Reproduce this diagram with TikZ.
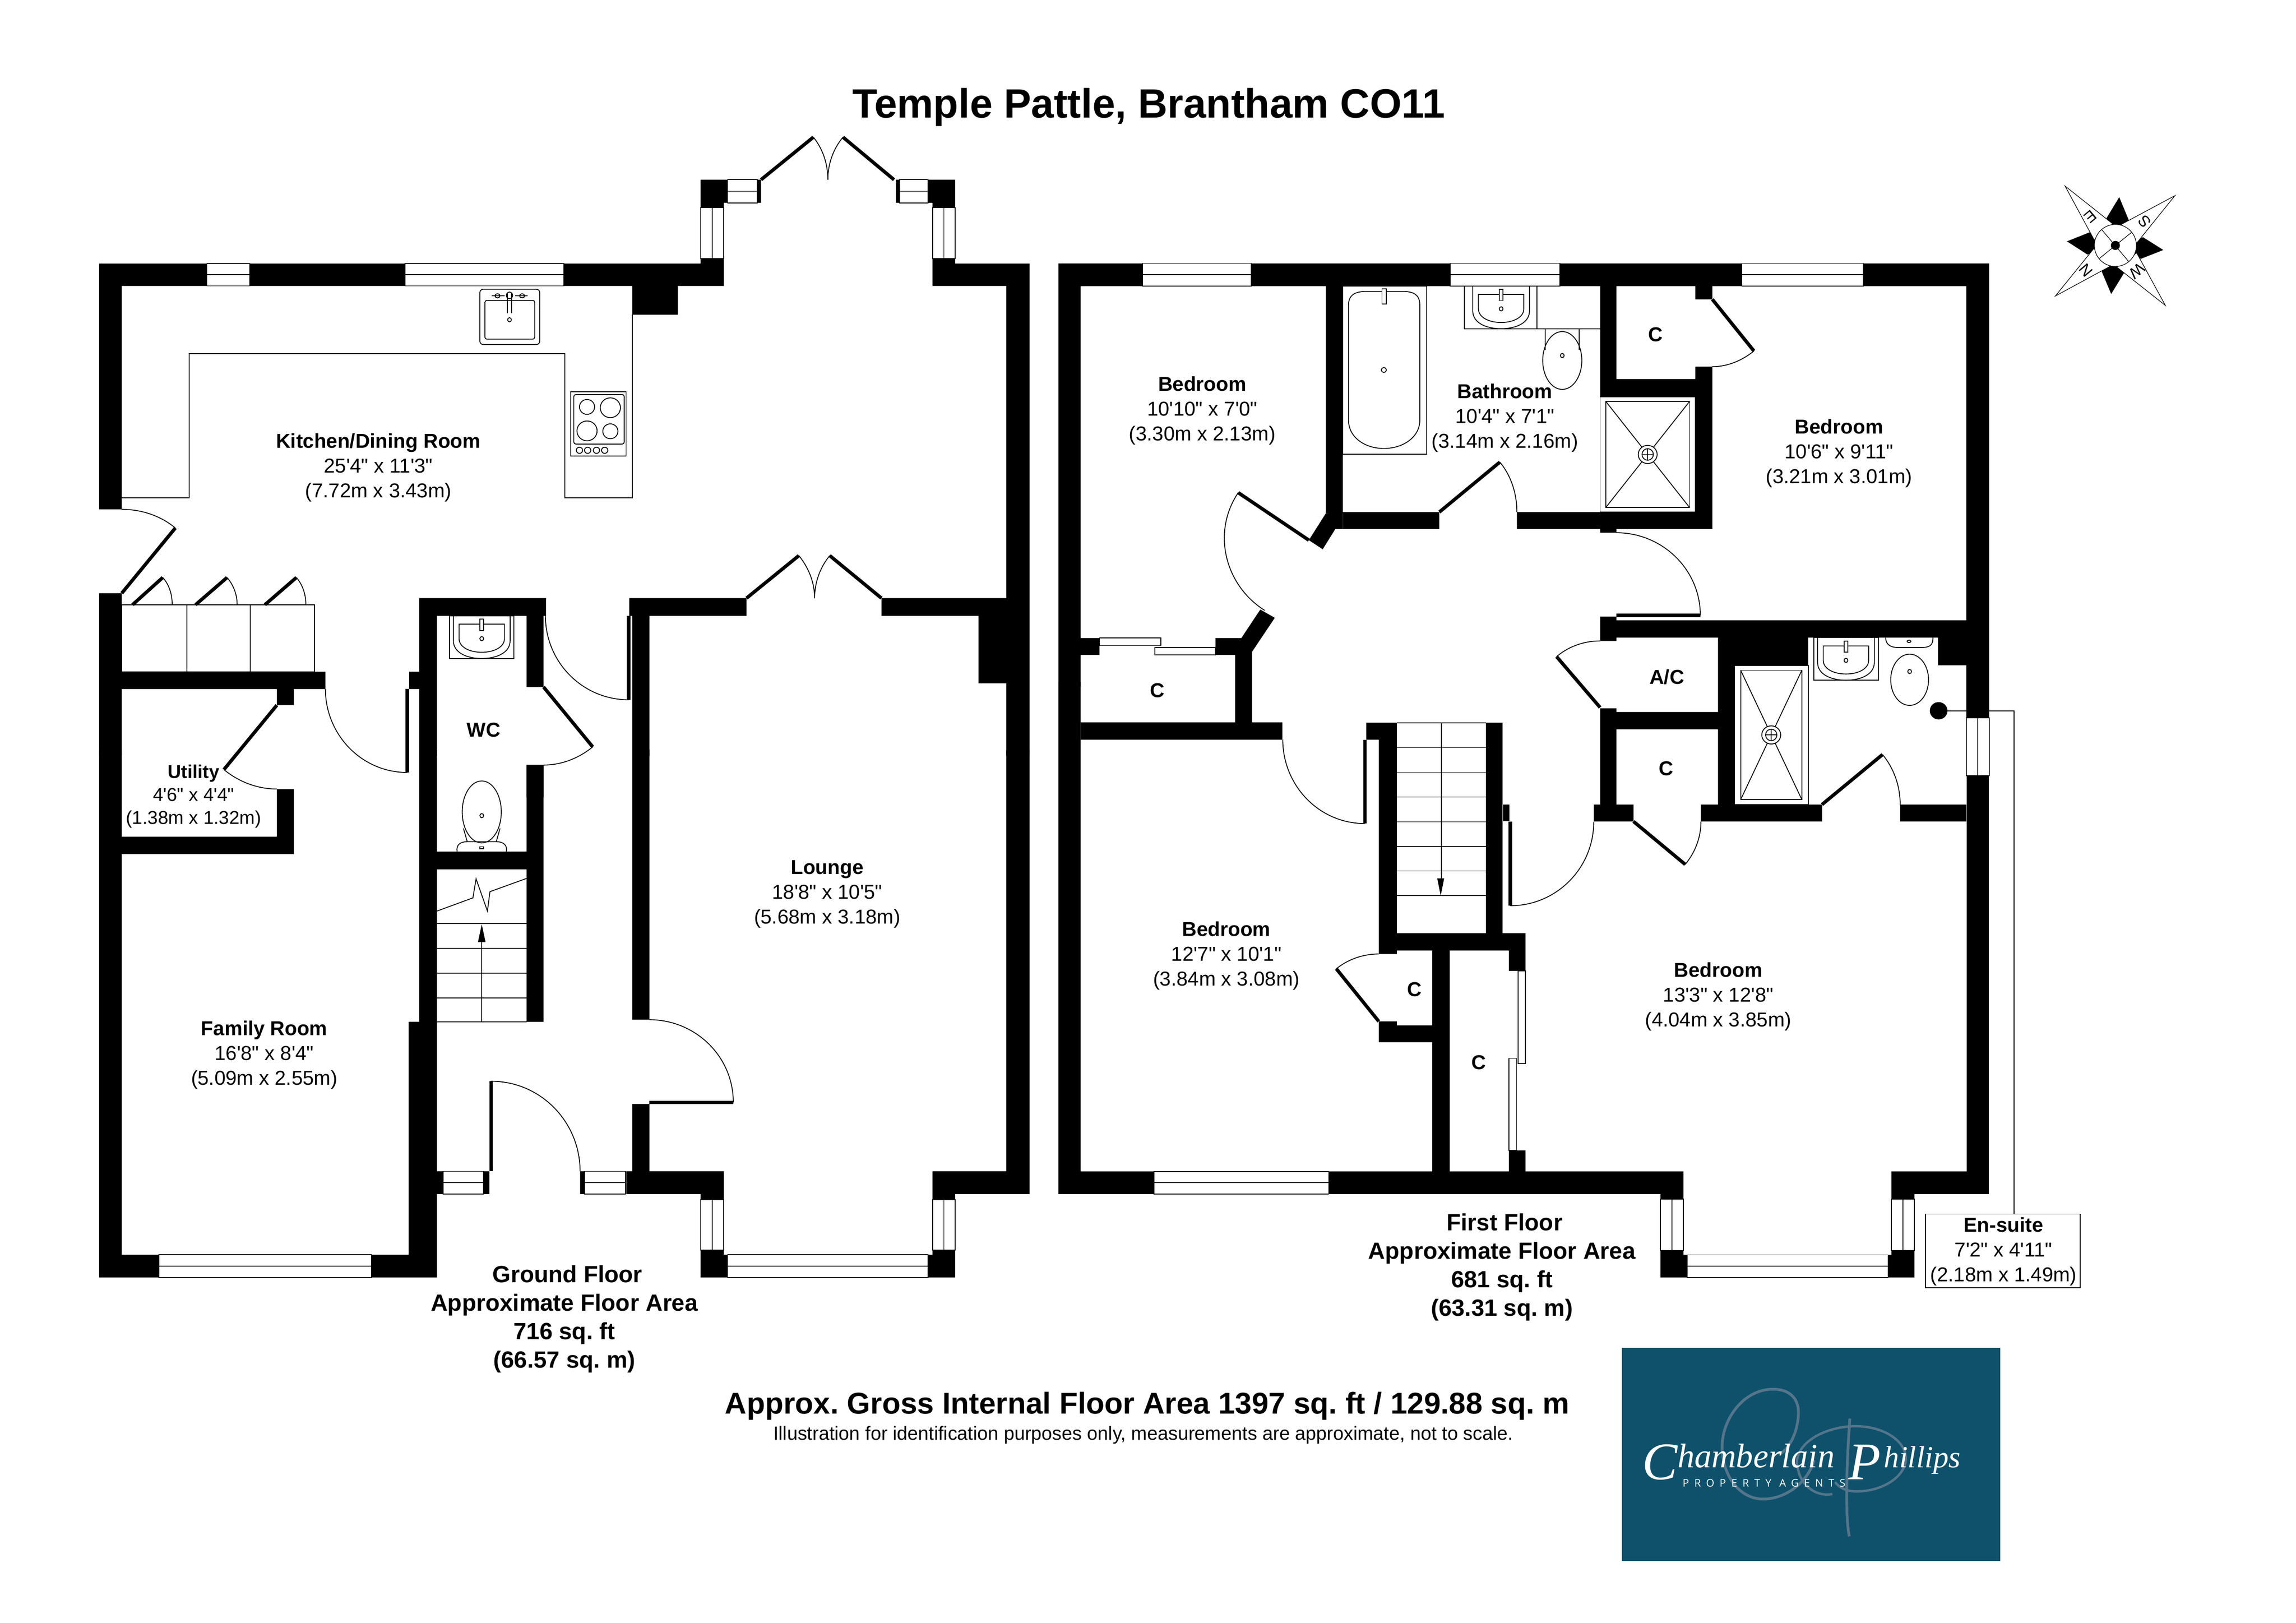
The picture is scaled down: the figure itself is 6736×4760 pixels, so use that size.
\documentclass[tikz,border=0pt]{standalone}
\usepackage{fontspec}
\setmainfont{Liberation Sans}
\newfontfamily\planfont{Liberation Sans}
\newfontfamily\scriptfam{Liberation Serif}
\newfontfamily\logosans[LetterSpace=50]{Open Sans}
\definecolor{logoblue}{HTML}{0F516B}
\definecolor{logomark}{HTML}{54758B}
\frenchspacing
\tikzset{
 z1/.style={shift={(250,400)},xscale=1.8495,yscale=1.2117},
 z2/.style={shift={(250,2200)},xscale=1.8495,yscale=1.2117},
 z3/.style={shift={(3100,700)},xscale=1.8495,yscale=1.2117},
 z4/.style={shift={(3100,2000)},xscale=2.041,yscale=1.2755},
 z5/.style={shift={(4700,3900)},xscale=0.829,yscale=0.4974},
 z6/.style={shift={(6000,480)},xscale=0.3333,yscale=0.3333},
 thinl/.style={line width=0.25pt,draw=black},
 leaf/.style={line width=1pt,draw=black},
 room/.style={font=\planfont\fontsize{5.9}{7.27}\selectfont,align=center,inner sep=0pt,yshift=-0.5pt},
 smallroom/.style={font=\planfont\fontsize{5.45}{6.7}\selectfont,align=center,inner sep=0pt,yshift=-0.3pt},
 floorlab/.style={font=\planfont\fontsize{6.88}{8.36}\selectfont\bfseries,align=center,inner sep=0pt,yshift=-0.8pt},
 heading/.style={font=\planfont\fontsize{12}{14}\selectfont\bfseries,inner sep=0pt},
 grossarea/.style={font=\planfont\fontsize{8.83}{10}\selectfont\bfseries,inner sep=0pt},
 disclaimer/.style={font=\planfont\fontsize{5.58}{6.5}\selectfont,inner sep=0pt},
 compassletter/.style={inner sep=0pt,font=\planfont\fontsize{4.6}{5}\selectfont},
}
\newcommand{\door}[6]{%
 \pgfmathsetmacro\Ax{(#3-#1)*\zx}\pgfmathsetmacro\Ay{(#4-#2)*\zy}%
 \pgfmathsetmacro\Bx{(#5-#1)*\zx}\pgfmathsetmacro\By{(#6-#2)*\zy}%
 \pgfmathsetmacro\dang{atan2(\By,\Bx)-atan2(\Ay,\Ax)}%
 \pgfmathsetmacro\dang{\dang>180 ? \dang-360 : (\dang<-180 ? \dang+360 : \dang)}%
 \pgfmathsetmacro\kk{4/3*tan(\dang/4)}%
 \pgfmathsetmacro\cax{#3-(\kk)*(\Ay)/\zx}\pgfmathsetmacro\cay{#4+(\kk)*(\Ax)/\zy}%
 \pgfmathsetmacro\cbx{#5+(\kk)*(\By)/\zx}\pgfmathsetmacro\cby{#6-(\kk)*(\Bx)/\zy}%
 \draw[thinl] (#3,#4) .. controls (\cax,\cay) and (\cbx,\cby) .. (#5,#6);
 \draw[leaf] (#1,#2) -- (#3,#4);
}
\newcommand{\winH}[4]{%
 \draw[thinl,fill=white] (#1,#3) rectangle (#2,#4);
 \pgfmathsetmacro\wm{(#3+#4)/2}\draw[thinl] (#1,\wm) -- (#2,\wm);
}
\newcommand{\winV}[4]{%
 \draw[thinl,fill=white] (#1,#3) rectangle (#2,#4);
 \pgfmathsetmacro\wm{(#1+#2)/2}\draw[thinl] (\wm,#3) -- (\wm,#4);
}
\newcommand{\basin}[2]{%
 \begin{scope}[shift={(#1,#2)}]
 \draw[thinl] (-45,0) -- (-45,60) .. controls (-45,88) and (-25,103) .. (0,103) .. controls (25,103) and (45,88) .. (45,60) -- (45,0);
 \draw[thinl] (-36,20) -- (-36,55) .. controls (-36,75) and (-20,88) .. (0,88) .. controls (20,88) and (36,75) .. (36,55) -- (36,20) -- cycle;
 \draw[thinl,fill=white] (-3,8) rectangle (3,35);
 \draw[thinl] (0,55) ellipse [x radius=3,y radius=5];
 \end{scope}
}
\newcommand{\shower}[6]{%
 \draw[thinl] (#1,#2) rectangle (#3,#4);
 \pgfmathsetmacro\sa{#1+#5}\pgfmathsetmacro\sb{#3-#5}\pgfmathsetmacro\sc{#2+#6}\pgfmathsetmacro\sd{#4-#6}%
 \pgfmathsetmacro\mx{(#1+#3)/2}\pgfmathsetmacro\my{(#2+#4)/2}%
 \draw[thinl] (\sa,\sc) rectangle (\sb,\sd);
 \draw[thinl] (\sa,\sc) -- (\sb,\sd) (\sb,\sc) -- (\sa,\sd);
 \draw[thinl,fill=white] (\mx,\my) ellipse [x radius=15,y radius=22];
 \draw[thinl] (\mx,\my) ellipse [x radius=9,y radius=14];
 \draw[thinl] (\mx-9,\my) -- (\mx+9,\my) (\mx,\my-14) -- (\mx,\my+14);
}
\begin{document}
\begin{tikzpicture}[x=0.1pt,y=-0.1pt]
\useasboundingbox (0,0) rectangle (6736,4760);
\fill[white] (0,0) rectangle (6736,4760);
% ---------- GROUND FLOOR upper
\begin{scope}[z1]
\def\zx{1.8495}\def\zy{1.2117}
\fill (22,308) rectangle (193,362)
      (22,308) rectangle (58,903)
      (261,308) rectangle (507,362)
      (759,308) rectangle (1013,362)
      (976,296) rectangle (1013,362)
      (868,362) rectangle (940,432)
      (976,105) rectangle (1019,161)
      (976,161) rectangle (1013,172)
      (1066,105) rectangle (1072,161)
      (1286,105) rectangle (1292,161)
      (1337,105) rectangle (1380,161)
      (1344,161) rectangle (1380,172)
      (1344,296) rectangle (1380,362)
      (1344,308) rectangle (1498,362)
      (1461,308) rectangle (1498,1500)
      (863,1118) rectangle (1049,1161)
      (1263,1118) rectangle (1461,1161)
      (1417,1161) rectangle (1461,1324)
      (868,1118) rectangle (895,1500)
      (530,1118) rectangle (731,1161)
      (530,1118) rectangle (558,1500)
      (700,1161) rectangle (727,1333)
      (700,1522) rectangle (727,1600)
      (22,1106) rectangle (58,1500)
      (22,1296) rectangle (381,1338)
      (514,1296) rectangle (530,1338)
      (304,1338) rectangle (331,1377);
\winH{193}{261}{308}{362}
\winH{507}{759}{308}{362}
\winV{976}{1013}{172}{296}
\winV{1344}{1380}{172}{296}
\winH{1019}{1066}{105}{161}
\winH{1292}{1337}{105}{161}
\door{1072}{105}{1155}{2}{1178}{105}
\door{1283}{105}{1202}{2}{1178}{105}
\door{1049}{1118}{1132}{1015}{1157}{1118}
\door{1263}{1118}{1181}{1015}{1157}{1118}
\door{58}{1106}{143}{948}{58}{903}
\door{75}{1134}{123}{1068}{138}{1134}
\door{175}{1134}{225}{1068}{241}{1134}
\door{285}{1134}{335}{1068}{350}{1134}
\door{511}{1338}{511}{1540}{381}{1338}
\door{862}{1161}{862}{1364}{730}{1161}
\door{727}{1333}{805}{1478}{727}{1522}
\door{304}{1377}{220}{1533}{304}{1580}
\draw[thinl] (58,875) -- (165,875) -- (165,526) -- (761,526) -- (761,875) -- (868,875) -- (868,432);
\draw[thinl] (58,1134) rectangle (161,1296) (161,1134) rectangle (262,1296) (262,1134) rectangle (364,1296);
\draw[thinl,rounded corners=1pt] (626,370) rectangle (721,504);
\draw[thinl,rounded corners=0.6pt] (634,397) rectangle (713,491);
\draw[thinl] (670,380) -- (670,428) (676,380) -- (676,428);
\draw[thinl] (673,385) ellipse [x radius=5,y radius=8];
\draw[thinl] (654,386) ellipse [x radius=4,y radius=5] (693,386) ellipse [x radius=4,y radius=5];
\draw[thinl] (645,386) -- (665,386) (682,386) -- (702,386);
\draw[thinl] (673,444) ellipse [x radius=3,y radius=5];
\draw[thinl] (770,618) rectangle (858,774);
\draw[thinl,rounded corners=0.6pt] (775,625) rectangle (855,745);
\draw[thinl] (796,655) ellipse [x radius=12,y radius=18];
\draw[thinl] (833,657) ellipse [x radius=16,y radius=24];
\draw[thinl] (796,713) ellipse [x radius=16,y radius=24];
\draw[thinl] (833,714) ellipse [x radius=12,y radius=18];
\foreach \hx in {784,797,811,824} \draw[thinl] (\hx,760) ellipse [x radius=5,y radius=7.5];
\draw[thinl] (578,1161) rectangle (680,1264);
\basin{629}{1161}
\node[room] (kitchen) at (465,798) {\textbf{Kitchen/Dining Room}\\25'4" x 11'3"\\(7.72m x 3.43m)};
\node[room] (wc) at (632,1433) {\textbf{WC}};
\end{scope}
% ---------- GROUND FLOOR lower
\begin{scope}[z2]
\def\zx{1.8495}\def\zy{1.2117}
\fill (1461,0) rectangle (1498,1075)
      (1344,1020) rectangle (1498,1075)
      (1344,1075) rectangle (1380,1088)
      (868,0) rectangle (895,653)
      (868,857) rectangle (895,1020)
      (858,1020) rectangle (1013,1075)
      (976,1075) rectangle (1013,1088)
      (976,1211) rectangle (1013,1222)
      (976,1222) rectangle (1019,1277)
      (1344,1211) rectangle (1380,1222)
      (1337,1222) rectangle (1380,1277)
      (530,0) rectangle (558,658)
      (513,658) rectangle (558,1277)
      (22,0) rectangle (58,1277)
      (22,1222) rectangle (117,1277)
      (454,1222) rectangle (558,1277)
      (700,36) rectangle (727,658)
      (558,246) rectangle (700,289)
      (304,95) rectangle (331,252)
      (58,210) rectangle (331,252)
      (558,1020) rectangle (568,1075)
      (632,1020) rectangle (641,1075)
      (785,1020) rectangle (792,1075);
\winH{117}{454}{1222}{1277}
\winH{1019}{1337}{1222}{1277}
\winV{976}{1013}{1088}{1211}
\winV{1344}{1380}{1088}{1211}
\winH{568}{632}{1020}{1075}
\winH{792}{857}{1020}{1075}
\door{895}{853}{1028}{853}{895}{653}
\door{644}{1020}{644}{802}{785}{1020}
\draw[thinl] (558,420) -- (700,420) (558,480) -- (700,480) (558,540) -- (700,540) (558,600) -- (700,600) (558,658) -- (700,658);
\draw[thinl] (629,658) -- (629,440);
\fill (629,422) -- (635,465) -- (623,465) -- cycle;
\draw[thinl] (558,390) -- (615,358) -- (620,312) -- (638,390) -- (642,343) -- (700,311);
\draw[thinl] (629,150) ellipse [x radius=31,y radius=75];
\draw[thinl] (629,159) ellipse [x radius=3,y radius=5];
\draw[thinl] (600,190) -- (606,222) (658,190) -- (652,222);
\draw[thinl] (590,246) .. controls (588,230) and (595,222) .. (606,222) -- (652,222) .. controls (663,222) and (670,230) .. (668,246);
\draw[thinl] (626,234) rectangle (632,239);
\node[smallroom] (utility) at (172,110) {\textbf{Utility}\\4'6" x 4'4"\\(1.38m x 1.32m)};
\node[room] (family) at (284,734) {\textbf{Family Room}\\16'8" x 8'4"\\(5.09m x 2.55m)};
\node[room] (lounge) at (1177,345) {\textbf{Lounge}\\18'8" x 10'5"\\(5.68m x 3.18m)};
\node[floorlab] (groundarea) at (760,1371) {\hspace*{1.8pt}Ground Floor\\Approximate Floor Area\\716 sq. ft\\(66.57 sq. m)};
\end{scope}
% ---------- FIRST FLOOR upper
\begin{scope}[z3]
\def\zx{1.8495}\def\zy{1.2117}
\fill (3,60) rectangle (136,115)
      (309,60) rectangle (624,115)
      (798,60) rectangle (1087,115)
      (1280,60) rectangle (1479,115)
      (3,60) rectangle (38,1085)
      (1443,60) rectangle (1479,1160)
      (427,115) rectangle (454,665)
      (454,662) rectangle (607,703)
      (730,662) rectangle (1040,703)
      (862,115) rectangle (888,383)
      (888,340) rectangle (1040,383)
      (1013,115) rectangle (1040,147)
      (1013,310) rectangle (1040,340)
      (1013,340) rectangle (1040,703)
      (862,703) rectangle (888,712)
      (862,915) rectangle (888,974)
      (862,924) rectangle (1443,966)
      (862,1137) rectangle (888,1370)
      (862,1146) rectangle (1075,1188)
      (1049,966) rectangle (1192,1033)
      (1049,966) rectangle (1075,1370)
      (1398,966) rectangle (1443,1033)
      (852,1370) rectangle (915,1411)
      (1022,1370) rectangle (1214,1411)
      (1338,1370) rectangle (1443,1411)
      (38,967) rectangle (68,1008)
      (38,1171) rectangle (358,1213)
      (708,1370) rectangle (718,1410);
\fill (427,665) -- (400,730) -- (422,752) -- (442,703) -- (454,703) -- (454,662) -- cycle;
\fill (252,967) -- (293,967) -- (323,898) -- (346,918) -- (310,1000) -- (310,1171) -- (283,1171) -- (283,1008) -- (252,1008) -- cycle;
\winH{136}{309}{60}{115}
\winH{624}{798}{60}{115}
\winH{1087}{1280}{60}{115}
\winV{1443}{1479}{1160}{1300}
\draw[thinl,fill=white] (68,967) rectangle (165,985);
\draw[thinl,fill=white] (156,990) rectangle (252,1008);
\door{400}{730}{288}{615}{330}{900}
\door{607}{662}{703}{541}{730}{662}
\door{1040}{147}{1106}{272}{1040}{310}
\draw[thinl] (888,712) .. controls (960,712) and (1021,800) .. (1021,912);
\draw[leaf] (888,912) -- (1021,912);
\door{862}{1135}{793}{1012}{862}{974}
\door{1214}{1370}{1310}{1249}{1338}{1370}
\door{915}{1411}{997}{1515}{1022}{1411}
\draw[thinl] (454,115) rectangle (587,522);
\draw[thinl] (463,160) .. controls (463,135) and (475,128) .. (490,128) -- (550,128) .. controls (565,128) and (576,135) .. (576,160) -- (576,440) .. controls (576,480) and (550,508) .. (519,508) .. controls (488,508) and (463,480) .. (463,440) -- cycle;
\draw[thinl,fill=white] (516,122) rectangle (523,158);
\draw[thinl] (519,318) ellipse [x radius=4,y radius=6];
\draw[thinl] (647,115) rectangle (762,218);
\draw[thinl] (762,218) -- (862,218);
\basin{705}{115}
\draw[thinl] (775,218) -- (775,270) (829,218) -- (829,270);
\draw[thinl] (802,295) ellipse [x radius=31,y radius=70];
\draw[thinl] (802,283) ellipse [x radius=3,y radius=5];
\shower{862}{383}{1013}{662}{9}{11}
\shower{1075}{1033}{1192}{1370}{10}{12}
\draw[thinl] (1201,966) rectangle (1304,1069);
\basin{1252}{966}
\draw[thinl] (1353,1068) ellipse [x radius=30,y radius=62];
\draw[thinl] (1353,1048) ellipse [x radius=3,y radius=5];
\draw[thinl] (1315,966) .. controls (1315,985) and (1325,990) .. (1335,990) -- (1370,990) .. controls (1385,990) and (1390,985) .. (1390,966);
\draw[thinl] (1352,975) ellipse [x radius=3,y radius=3];
\fill (1399,1143) ellipse [x radius=14,y radius=21];
\draw[thinl] (1399,1143) -- (1519,1143);
\node[room] (bed1) at (231,412) {\textbf{Bedroom}\\10'10" x 7'0"\\(3.30m x 2.13m)};
\node[room] (bath) at (711,430) {\textbf{Bathroom}\\10'4" x 7'1"\\(3.14m x 2.16m)};
\node[room] (bed2) at (1241,516) {\textbf{Bedroom}\\10'6" x 9'11"\\(3.21m x 3.01m)};
\node[room] (c1) at (950,228) {\textbf{C}};
\node[room] (ac) at (968,1057) {\textbf{A/C}};
\node[room] (c2) at (160,1090) {\textbf{C}};
\node[room] (c3) at (967,1279) {\textbf{C}};
\end{scope}
% ---------- FIRST FLOOR lower
\begin{scope}[z4]
\def\zx{2.041}\def\zy{1.2755}
\fill (2.5,0) rectangle (34.5,1178)
      (445,94) rectangle (489,133)
      (463,133) rectangle (489,626)
      (617,94) rectangle (641,618)
      (463,578) rectangle (674,618)
      (650,618) rectangle (674,665)
      (463,781) rectangle (489,790)
      (463,790) rectangle (565,829)
      (540,618) rectangle (565,1126)
      (650,1078) rectangle (674,1126)
      (2.5,1126) rectangle (140,1178)
      (391,1126) rectangle (901,1178)
      (868,1178) rectangle (901,1190)
      (868,1308) rectangle (901,1318)
      (868,1318) rectangle (906,1370)
      (1195,1318) rectangle (1233,1370)
      (1200,1308) rectangle (1233,1318)
      (1200,1178) rectangle (1233,1190)
      (1200,1126) rectangle (1340,1178)
      (1308,215) rectangle (1340,1178);
\winH{140}{391}{1126}{1178}
\winH{906}{1195}{1318}{1370}
\winV{868}{901}{1190}{1308}
\winV{1200}{1233}{1190}{1308}
\draw[thinl,fill=white] (663,665) rectangle (674,878);
\draw[thinl,fill=white] (650,866) rectangle (661,1078);
\door{443}{133}{443}{326}{325}{133}
\door{652}{322}{652}{515}{772}{322}
\door{463}{781}{402}{660}{463}{626}
\foreach \sy in {94,151,208,265,322,379,435,492} \draw[thinl] (489,\sy) -- (617,\sy);
\draw[thinl] (553,94) -- (553,470);
\fill (547,452) -- (557,452) -- (552,492) -- cycle;
\draw[thinl] (1376,66) -- (1376,1224);
\draw[thinl] (1249,1224) rectangle (1471,1394);
\node[room] (bed3) at (244,626) {\textbf{Bedroom}\\12'7" x 10'1"\\(3.84m x 3.08m)};
\node[room] (bed4) at (951,720) {\textbf{Bedroom}\\13'3" x 12'8"\\(4.04m x 3.85m)};
\node[room] (c4) at (514,704) {\textbf{C}};
\node[room] (c5) at (607,872) {\textbf{C}};
\node[floorlab] (firstarea) at (640,1340) {\hspace*{1.6pt}First Floor\\Approximate Floor Area\\681 sq. ft\\(63.31 sq. m)};
\node[room] (ensuite) at (1361,1306) {\textbf{En-suite}\\7'2" x 4'11"\\(2.18m x 1.49m)};
\end{scope}
% ---------- titles
\node[heading] (title) at (3370,315) {Temple Pattle, Brantham CO11};
\node[grossarea] (gross) at (3366,4124) {Approx. Gross Internal Floor Area 1397 sq. ft / 129.88 sq. m};
\node[disclaimer] (note) at (3354,4210) {Illustration for identification purposes only, measurements are approximate, not to scale.};
% ---------- logo
\begin{scope}[z5]
\fill[logoblue] (70,109) rectangle (1410,1364);
\draw[logomark,line width=0.8pt] (625,738) .. controls (670,700) and (695,580) .. (695,490) .. controls (695,400) and (660,352) .. (605,352) .. controls (500,352) and (425,530) .. (425,690) .. controls (425,870) and (490,1000) .. (570,1000) .. controls (650,1000) and (730,900) .. (750,770);
\draw[logomark,line width=0.7pt] (815,970) .. controls (760,990) and (690,920) .. (690,770) .. controls (700,650) and (800,572) .. (895,570) .. controls (1000,570) and (1075,660) .. (1075,760) .. controls (1075,870) and (990,955) .. (900,955) .. controls (860,955) and (835,925) .. (825,900);
\draw[logomark,line width=0.8pt] (877,525) .. controls (865,800) and (860,1100) .. (875,1220);
\node[text=white,inner sep=0pt,anchor=base west,font=\scriptfam\itshape\fontsize{10}{12}\selectfont] (logoname) at (140,815) {\raisebox{-3.4pt}[0pt][0pt]{\fontsize{15.5}{16}\selectfont C}hamberlain \hspace{1.5pt}\raisebox{-3.4pt}[0pt][0pt]{\fontsize{15.5}{16}\selectfont P}\hspace{1pt}\fontsize{9}{12}\selectfont hillips};
\node[text=white,inner sep=0pt,anchor=west,font=\logosans\fontsize{3.1}{4}\selectfont] (logosub) at (283,905) {PROPERTY AGENTS};
\end{scope}
% ---------- compass
\begin{scope}[z6]
\fill (618,720) -- (540,480) -- (652,295) -- (735,495) -- cycle;
\fill (618,720) -- (390,605) -- (192,684) -- (372,800) -- cycle;
\fill (618,720) -- (862,648) -- (1040,760) -- (842,838) -- cycle;
\fill (618,720) -- (498,950) -- (581,1147) -- (693,965) -- cycle;
\draw[line width=0.17pt,fill=white] (175,197) -- (595,530) -- (432,672) -- cycle;
\draw[line width=0.17pt,fill=white] (1142,282) -- (670,535) -- (805,700) -- cycle;
\draw[line width=0.17pt,fill=white] (90,1165) -- (430,745) -- (570,905) -- cycle;
\draw[line width=0.17pt,fill=white] (1058,1248) -- (805,785) -- (630,910) -- cycle;
\draw[line width=0.17pt,fill=white] (618,720) circle [radius=185];
\draw[line width=0.17pt] (497,580) -- (738,865) (763,603) -- (473,838);
\fill (618,720) circle [radius=40];
\node[compassletter,rotate=220] (compE) at (400,465) {E};
\node[compassletter,rotate=130] (compS) at (875,508) {S};
\node[compassletter,rotate=130] (compN) at (358,940) {N};
\node[compassletter,rotate=220] (compW) at (810,945) {W};
\end{scope}
\end{tikzpicture}
\end{document}
